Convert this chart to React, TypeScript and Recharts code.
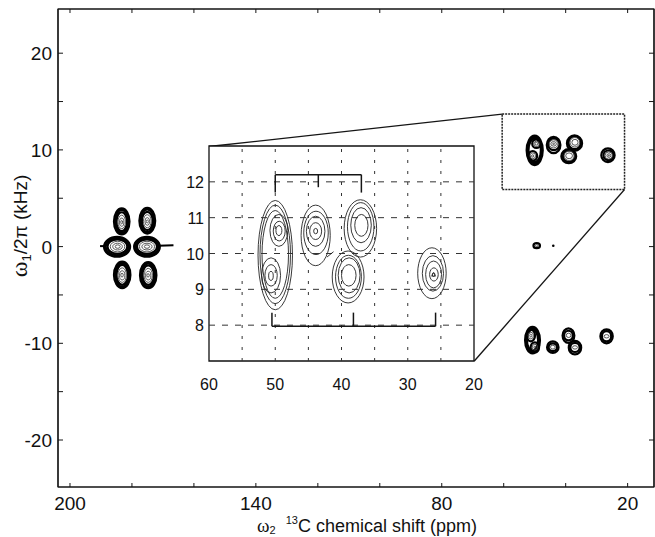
import React from "react";
import { ComposedChart, XAxis, YAxis, ReferenceArea, ReferenceLine, Scatter } from "recharts";

// contour ring = [ppm from, ppm to, kHz from, kHz to] (extent of one contour level)
type Ring = [number, number, number, number];
type Pt = [number, number];

// ---- main axes ----
const mainXTicks = [200, 180, 160, 140, 120, 100, 80, 60, 40, 20];
const mainXLabels = [200, 140, 80, 20];
const mainYTicks = [-20, -15, -10, -5, 0, 5, 10, 15, 20];
const mainYLabels = [-20, -10, 0, 10, 20];

// ---- inset axes ----
const insetXTicks = [60, 50, 40, 30, 20];
const insetXGrid = [55, 50, 45, 40, 35, 30, 25];
const insetYTicks = [8, 9, 10, 11, 12];

// ---- aliphatic cross peaks (inset + boxed region, +10 kHz sideband) ----
const peakAB: Ring[] = [[47.4, 52.6, 8.43, 11.48], [47.7, 52.3, 8.6, 11.35], [48.0, 52.0, 8.75, 11.2]];
const peakA: Ring[] = [[48.1, 50.8, 10.2, 11.09], [48.5, 50.3, 10.35, 10.9], [49.0, 49.9, 10.5, 10.78]];
const peakB: Ring[] = [[49.2, 52.06, 8.9, 9.88], [49.7, 51.56, 9.09, 9.69], [50.3, 51.0, 9.25, 9.5]];
const peakC: Ring[] = [[41.7, 46.1, 9.66, 11.35], [42.0, 45.7, 9.97, 11.18], [42.5, 45.3, 10.2, 11.04], [43.0, 44.8, 10.39, 10.86], [43.6, 44.2, 10.55, 10.7]];
const peakD: Ring[] = [[34.7, 39.6, 9.9, 11.5], [35.1, 39.1, 10.07, 11.42], [35.5, 38.6, 10.3, 11.28], [36.0, 38.0, 10.48, 11.09]];
const peakE: Ring[] = [[36.6, 41.4, 8.62, 10.07], [37.0, 40.9, 8.75, 9.95], [37.2, 40.5, 8.9, 9.88], [37.8, 40.0, 9.09, 9.69]];
const peakF: Ring[] = [[24.2, 28.5, 8.74, 10.16], [24.6, 27.8, 8.95, 9.94], [24.9, 27.3, 9.04, 9.79], [25.4, 26.7, 9.23, 9.6], [25.9, 26.3, 9.36, 9.46]];
const peakFTop = [{ x: 26.1, y: 9.41 }];
const linkCE: [Pt, Pt] = [[42.2, 9.9], [41.2, 10.05]];

// ---- -10 kHz sideband ----
const lowAB: Ring[] = [[48.3, 53.1, -11.05, -8.3], [48.6, 52.8, -10.9, -8.45], [48.9, 52.5, -10.75, -8.6]];
const lowA: Ring[] = [[49.9, 52.6, -9.8, -8.6], [50.4, 52.1, -9.55, -8.85], [50.9, 51.6, -9.35, -9.05]];
const lowB: Ring[] = [[48.6, 51.3, -10.95, -9.9], [49.1, 50.8, -10.7, -10.1], [49.6, 50.3, -10.5, -10.3]];
const lowC: Ring[] = [[42.3, 46.0, -11.0, -9.8], [42.8, 45.5, -10.8, -10.0], [43.4, 44.9, -10.6, -10.2]];
const lowD: Ring[] = [[37.2, 41.0, -9.95, -8.45], [37.7, 40.5, -9.7, -8.7], [38.3, 39.8, -9.4, -8.95]];
const lowE: Ring[] = [[35.0, 39.0, -11.15, -9.75], [35.5, 38.5, -10.9, -9.95], [36.2, 37.8, -10.6, -10.25]];
const lowF: Ring[] = [[24.8, 28.8, -10.0, -8.55], [25.3, 28.3, -9.8, -8.75], [26.0, 27.6, -9.45, -9.1]];

// ---- carbonyl / aromatic region ----
const aroTL: Ring[] = [[180.8, 185.8, 1.25, 3.95], [181.2, 185.4, 1.4, 3.8], [181.6, 185.0, 1.6, 3.55], [182.1, 184.5, 1.85, 3.25], [182.6, 184.0, 2.1, 2.95], [183.0, 183.6, 2.35, 2.7]];
const aroTR: Ring[] = [[172.5, 177.6, 1.35, 4.0], [172.9, 177.2, 1.5, 3.85], [173.3, 176.8, 1.7, 3.6], [173.8, 176.3, 1.95, 3.3], [174.3, 175.8, 2.2, 3.0], [174.7, 175.4, 2.45, 2.75]];
const aroML: Ring[] = [[180.6, 189.0, -1.05, 1.0], [181.0, 188.5, -0.9, 0.88], [181.5, 187.9, -0.75, 0.75], [182.3, 187.0, -0.55, 0.55], [183.1, 186.2, -0.35, 0.35], [183.8, 185.4, -0.18, 0.18]];
const aroMR: Ring[] = [[171.0, 179.3, -1.05, 1.0], [171.4, 178.9, -0.9, 0.88], [171.9, 178.4, -0.75, 0.75], [172.7, 177.6, -0.55, 0.55], [173.5, 176.8, -0.35, 0.35], [174.3, 176.0, -0.18, 0.18]];
const aroBL: Ring[] = [[180.5, 185.8, -4.3, -1.55], [180.9, 185.4, -4.15, -1.7], [181.3, 185.0, -3.95, -1.9], [181.8, 184.5, -3.7, -2.2], [182.3, 184.0, -3.45, -2.5], [182.8, 183.6, -3.15, -2.75]];
const aroBR: Ring[] = [[172.1, 177.4, -4.3, -1.6], [172.5, 177.0, -4.15, -1.75], [172.9, 176.6, -3.95, -1.95], [173.4, 176.1, -3.7, -2.25], [173.9, 175.6, -3.45, -2.55], [174.4, 175.2, -3.15, -2.8]];
const aroSpikes: [Pt, Pt][] = [[[171.5, 0.1], [166.6, 0.15]], [[188.5, 0.05], [190.3, 0.05]]];

// ---- centre band ----
const centreRings: Ring[] = [[48.3, 50.4, -0.15, 0.35], [48.9, 49.8, 0.0, 0.2]];
const centreDots = [{ x: 44.0, y: 0.08 }];

// ---- zoom box and connectors (main coordinates) ----
const boxX = [60.5, 21];
const boxY = [5.9, 13.7];
const linkTop: [Pt, Pt] = [[155.13, 10.35], [60.5, 13.7]];
const linkBottom: [Pt, Pt] = [[69.49, -11.83], [21, 5.9]];

// ---- assignment brackets in the inset ----
const topBracketX = [50, 43.5, 37];
const topBracketY = [12.2, 11.7, 11.85];
const bottomBracketX = [50.5, 38.2, 25.8];
const bottomBracketY = [7.97, 8.35];

const FONT = '"Liberation Sans", Arial, Helvetica, sans-serif';
const INK = "#151515";
const X_DOMAIN: [number, number] = [11.49, 203.87];
const Y_DOMAIN: [number, number] = [-24.86, 24.57];

const ellipse = (stroke: string, width: number) => (p: any) => (
  <ellipse
    cx={p.x + p.width / 2}
    cy={p.y + p.height / 2}
    rx={Math.max(p.width / 2, 0.4)}
    ry={Math.max(p.height / 2, 0.4)}
    fill="none"
    stroke={stroke}
    strokeWidth={width}
  />
);

function contours(list: Ring[], key: string, style: (i: number) => [string, number]) {
  return list.map((r, i) => {
    const [c, w] = style(i);
    return (
      <ReferenceArea key={key + i} x1={r[0]} x2={r[1]} y1={r[2]} y2={r[3]} ifOverflow="visible" shape={ellipse(c, w)} />
    );
  });
}

function seg(a: Pt, b: Pt, key: string, width = 1.3, stroke = INK) {
  return (
    <ReferenceLine
      key={key}
      segment={[{ x: a[0], y: a[1] }, { x: b[0], y: b[1] }]}
      stroke={stroke}
      strokeWidth={width}
      ifOverflow="visible"
    />
  );
}

const bold = (n: number, w = 2.2) => (i: number): [string, number] => (i < n ? ["#000", w] : ["#444", 0.9]);
const thin = (): [string, number] => ["#222", 0.9];

const MainXTick = (p: any) => (
  <g>
    <line x1={p.x} x2={p.x} y1={p.y} y2={p.y - 4} stroke={INK} />
    {mainXLabels.includes(p.payload.value) && (
      <text x={p.x} y={p.y + 23} textAnchor="middle" fontSize={19} fill="#111" fontFamily={FONT}>
        {p.payload.value}
      </text>
    )}
  </g>
);
const TopTick = (p: any) => <line x1={p.x} x2={p.x} y1={p.y} y2={p.y + 4} stroke={INK} />;
const MainYTick = (p: any) => (
  <g>
    <line x1={p.x} x2={p.x + 5} y1={p.y} y2={p.y} stroke={INK} />
    {mainYLabels.includes(p.payload.value) && (
      <text x={p.x - 6} y={p.y + 7} textAnchor="end" fontSize={19} fill="#111" fontFamily={FONT}>
        {p.payload.value}
      </text>
    )}
  </g>
);
const RightTick = (p: any) => <line x1={p.x} x2={p.x - 5} y1={p.y} y2={p.y} stroke={INK} />;

const InsetXTick = (p: any) => (
  <text x={p.x} y={p.y + 29} textAnchor="middle" fontSize={16} fill="#111" fontFamily={FONT}>
    {p.payload.value}
  </text>
);
const InsetYTick = (p: any) => (
  <text x={p.x - 5} y={p.y + 6} textAnchor="end" fontSize={16} fill="#111" fontFamily={FONT}>
    {p.payload.value}
  </text>
);

const XTitle = () => (
  <text x={367} y={532} textAnchor="middle" fontSize={18} fill="#111" fontFamily={FONT}>
    <tspan fontFamily='"Liberation Serif", serif' fontSize={19}>ω</tspan>
    <tspan fontSize={11} dy={2}>2</tspan>
    <tspan fontSize={11} dx={10} dy={-10}>13</tspan>
    <tspan dy={8}>C chemical shift (ppm)</tspan>
  </text>
);
const YTitle = () => (
  <text transform="translate(27,226) rotate(-90)" x={0} y={0} textAnchor="middle" fontSize={19} fill="#111" fontFamily={FONT}>
    <tspan fontFamily='"Liberation Serif", serif' fontSize={24}>ω</tspan>
    <tspan fontSize={13} dy={4}>1</tspan>
    <tspan dy={-4}>/2π (kHz)</tspan>
  </text>
);

export default function App() {
  const tiny = (p: any) => <circle cx={p.cx} cy={p.cy} r={1.3} fill="#000" />;
  const tri = (p: any) => (
    <path d={`M${p.cx - 2},${p.cy + 1.5} L${p.cx + 2},${p.cy + 1.5} L${p.cx},${p.cy - 2} Z`} fill="none" stroke="#222" strokeWidth={0.8} />
  );
  return (
    <div style={{ position: "absolute", left: 0, top: 0, width: 655, height: 537, background: "#fff", fontFamily: FONT }}>
      <div style={{ position: "absolute", left: 0, top: 0 }}>
        <ComposedChart width={655} height={537} margin={{ top: 8, right: 0, bottom: 0, left: 0 }}>
          <XAxis
            type="number"
            dataKey="x"
            domain={X_DOMAIN}
            reversed
            allowDataOverflow
            ticks={mainXTicks}
            interval={0}
            height={50}
            tickSize={0}
            tickMargin={0}
            tickLine={false}
            axisLine={{ stroke: INK, strokeWidth: 1.2 }}
            tick={MainXTick}
            label={{ content: XTitle }}
          />
          <XAxis
            xAxisId="t"
            orientation="top"
            type="number"
            dataKey="x"
            domain={X_DOMAIN}
            reversed
            allowDataOverflow
            ticks={mainXTicks}
            interval={0}
            height={1}
            tickSize={0}
            tickMargin={0}
            tickLine={false}
            axisLine={{ stroke: INK, strokeWidth: 1.2 }}
            tick={TopTick}
          />
          <YAxis
            type="number"
            dataKey="y"
            domain={Y_DOMAIN}
            allowDataOverflow
            ticks={mainYTicks}
            interval={0}
            width={58}
            tickSize={0}
            tickMargin={0}
            tickLine={false}
            axisLine={{ stroke: INK, strokeWidth: 1.2 }}
            tick={MainYTick}
            label={{ content: YTitle }}
          />
          <YAxis
            yAxisId="r"
            orientation="right"
            type="number"
            dataKey="y"
            domain={Y_DOMAIN}
            allowDataOverflow
            ticks={mainYTicks}
            interval={0}
            width={1}
            tickSize={0}
            tickMargin={0}
            tickLine={false}
            axisLine={{ stroke: INK, strokeWidth: 1.2 }}
            tick={RightTick}
          />

          <ReferenceArea x1={X_DOMAIN[1]} x2={X_DOMAIN[0]} y1={Y_DOMAIN[0]} y2={Y_DOMAIN[1]} fill="none" fillOpacity={0} stroke={INK} strokeWidth={1.2} ifOverflow="visible" />
          <ReferenceArea x1={boxX[0]} x2={boxX[1]} y1={boxY[0]} y2={boxY[1]} fill="none" fillOpacity={0} stroke="#222" strokeWidth={1.5} strokeDasharray="2 1" ifOverflow="visible" />
          {seg(linkTop[0], linkTop[1], "lt")}
          {seg(linkBottom[0], linkBottom[1], "lb")}

          {contours(peakAB, "ab", bold(3))}
          {contours(peakA, "a", bold(1))}
          {contours(peakB, "b", bold(1))}
          {contours(peakC, "c", bold(2))}
          {contours(peakD, "d", bold(2))}
          {contours(peakE, "e", bold(2))}
          {contours(peakF, "f", bold(2))}

          {contours(lowAB, "lab", bold(3))}
          {contours(lowA, "la", bold(1))}
          {contours(lowB, "lbb", bold(1))}
          {contours(lowC, "lc", bold(2))}
          {contours(lowD, "ld", bold(2))}
          {contours(lowE, "le", bold(2))}
          {contours(lowF, "lf", bold(2))}

          {contours(aroTL, "tl", bold(3))}
          {contours(aroTR, "tr", bold(3))}
          {contours(aroML, "ml", bold(3))}
          {contours(aroMR, "mr", bold(3))}
          {contours(aroBL, "bl", bold(3))}
          {contours(aroBR, "br", bold(3))}
          {aroSpikes.map((s, i) => seg(s[0], s[1], "sp" + i, 2, "#000"))}

          {contours(centreRings, "cr", bold(1))}
          <Scatter data={centreDots} xAxisId="t" yAxisId="r" shape={tiny} isAnimationActive={false} />
        </ComposedChart>
      </div>

      <div style={{ position: "absolute", left: 179, top: 145 }}>
        <ComposedChart width={312} height={256} margin={{ top: 1, right: 17, bottom: 0, left: 0 }}>
          <XAxis
            type="number"
            dataKey="x"
            domain={[20, 60]}
            reversed
            allowDataOverflow
            ticks={insetXTicks}
            interval={0}
            height={40}
            tickSize={0}
            tickMargin={0}
            tickLine={false}
            axisLine={false}
            tick={InsetXTick}
          />
          <YAxis
            type="number"
            dataKey="y"
            domain={[7, 13]}
            allowDataOverflow
            ticks={insetYTicks}
            interval={0}
            width={30}
            tickSize={0}
            tickMargin={0}
            tickLine={false}
            axisLine={false}
            tick={InsetYTick}
          />
          <ReferenceArea x1={60} x2={20} y1={7} y2={13} fill="#fff" fillOpacity={1} stroke="none" ifOverflow="visible" />
          {insetXGrid.map((v) => (
            <ReferenceLine key={"gx" + v} x={v} stroke="#333" strokeWidth={1} strokeDasharray="3 8" />
          ))}
          {insetYTicks.map((v) => (
            <ReferenceLine key={"gy" + v} y={v} stroke="#333" strokeWidth={1} strokeDasharray="6 7" />
          ))}

          {contours(peakAB, "iab", thin)}
          {contours(peakA, "ia", thin)}
          {contours(peakB, "ib", thin)}
          {contours(peakC, "ic", thin)}
          {contours(peakD, "id", thin)}
          {contours(peakE, "ie", thin)}
          {contours(peakF, "if", thin)}
          {seg(linkCE[0], linkCE[1], "ce", 0.9, "#222")}
          <Scatter data={peakFTop} shape={tri} isAnimationActive={false} />

          {seg([topBracketX[0], topBracketY[0]], [topBracketX[2], topBracketY[0]], "tb", 1.5)}
          {seg([topBracketX[0], topBracketY[0]], [topBracketX[0], topBracketY[1]], "tb0", 1.5)}
          {seg([topBracketX[1], topBracketY[0]], [topBracketX[1], topBracketY[2]], "tb1", 1.5)}
          {seg([topBracketX[2], topBracketY[0]], [topBracketX[2], topBracketY[1]], "tb2", 1.5)}
          {seg([bottomBracketX[0], bottomBracketY[0]], [bottomBracketX[2], bottomBracketY[0]], "bb", 1.5)}
          {bottomBracketX.map((v, i) => seg([v, bottomBracketY[0]], [v, bottomBracketY[1]], "bb" + i, 1.5))}

          <ReferenceArea x1={60} x2={20} y1={7} y2={13} fill="none" fillOpacity={0} stroke="#111" strokeWidth={1.3} ifOverflow="visible" />
        </ComposedChart>
      </div>
    </div>
  );
}
